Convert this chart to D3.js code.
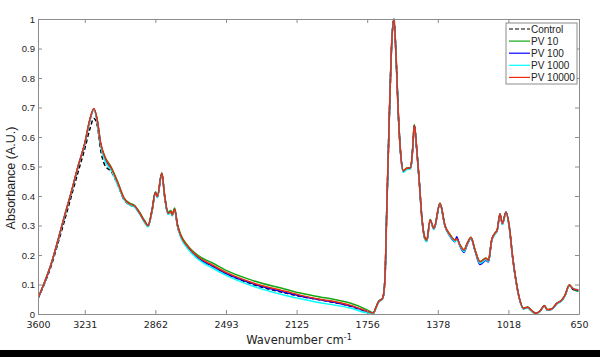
<!DOCTYPE html>
<html lang="en">
<head>
<meta charset="UTF-8">
<title>FTIR spectra</title>
<style>
  body, html { margin: 0; padding: 0; background: #fff; }
  svg { display: block; }
  .axis path, .axis line { stroke: #8c8c8c; }
  .xaxis text { font-family: "DejaVu Sans", sans-serif; font-size: 9.5px; fill: #222; }
  .yaxis text { font-family: "Liberation Sans", Arial, sans-serif; font-size: 9.5px; fill: #222; }
</style>
</head>
<body>
<div id="chart"></div>
<script src="https://d3js.org/d3.v7.min.js"></script>
<script>
// wavenumbers (cm-1) sampled along the spectra
const wavenumbers = [
  3600, 3563, 3527, 3491, 3454, 3418, 3382, 3345, 3318, 3295,
  3277, 3258, 3236, 3200, 3164, 3131, 3100, 3073, 3045, 3018,
  3000, 2978, 2960, 2949, 2925, 2909, 2891, 2876, 2868, 2855,
  2840, 2819, 2782, 2728, 2646, 2571, 2426, 2244, 2171, 2062,
  1991, 1899, 1808, 1772, 1758, 1744, 1720, 1708, 1699, 1684,
  1671, 1659, 1648, 1635, 1622, 1608, 1589, 1568, 1557, 1548,
  1535, 1521, 1508, 1490, 1480, 1462, 1441, 1408, 1381, 1353,
  1326, 1317, 1299, 1277, 1259, 1239, 1217, 1190, 1157, 1144,
  1126, 1108, 1096, 1081, 1068, 1048, 1030, 1012, 994, 975,
  953, 930, 908, 884, 862, 839, 822, 799, 771, 744,
  726, 703, 684, 654
];

const control = [
  .053, .105, .165, .240, .320, .400, .480, .560, .625, .663,
  .640, .555, .505, .482, .437, .387, .370, .363, .340, .312,
  .298, .350, .410, .397, .475, .397, .340, .346, .335, .353,
  .300, .260, .225, .190, .162, .136, .100, .070, .060, .048,
  .040, .027, .008, .002, .020, .040, .054, .120, .335, .675,
  .920, 1.00, .880, .675, .540, .484, .493, .495, .558, .638,
  .558, .449, .334, .256, .249, .318, .289, .374, .299, .266,
  .248, .253, .232, .214, .238, .258, .216, .175, .187, .180,
  .250, .273, .284, .337, .305, .343, .294, .193, .114, .052,
  .018, .022, .010, .002, .010, .027, .014, .017, .035, .046,
  .063, .096, .084, .079
];

const pv10 = [
  .053, .110, .172, .250, .335, .414, .500, .578, .656, .695,
  .657, .578, .535, .497, .446, .394, .376, .368, .344, .316,
  .302, .355, .414, .401, .479, .401, .345, .351, .340, .359,
  .306, .266, .231, .199, .172, .147, .113, .083, .071, .058,
  .050, .037, .015, .004, .022, .042, .055, .121, .336, .676,
  .920, 1.00, .880, .676, .541, .486, .495, .497, .562, .642,
  .561, .451, .336, .258, .251, .320, .291, .376, .301, .269,
  .251, .256, .235, .218, .241, .260, .218, .178, .190, .182,
  .252, .275, .286, .340, .308, .346, .297, .195, .116, .054,
  .020, .024, .012, .003, .011, .029, .015, .018, .037, .048,
  .065, .099, .086, .076
];

const pv100 = [
  .053, .109, .171, .250, .334, .413, .498, .577, .655, .694,
  .655, .575, .530, .490, .440, .390, .372, .365, .340, .312,
  .298, .351, .410, .397, .476, .397, .340, .346, .335, .354,
  .301, .260, .225, .191, .161, .136, .102, .072, .061, .048,
  .041, .028, .009, .002, .020, .040, .054, .120, .335, .675,
  .920, 1.00, .880, .675, .540, .483, .492, .494, .559, .639,
  .559, .449, .334, .254, .247, .317, .288, .374, .298, .263,
  .245, .262, .230, .209, .236, .257, .214, .168, .182, .176,
  .249, .272, .283, .338, .304, .346, .293, .192, .113, .052,
  .018, .022, .010, .002, .010, .027, .013, .016, .035, .046,
  .063, .097, .086, .080
];

const pv1000 = [
  .053, .109, .171, .249, .334, .413, .498, .576, .654, .692,
  .652, .570, .520, .486, .436, .388, .370, .362, .338, .309,
  .295, .348, .407, .394, .473, .394, .337, .343, .332, .351,
  .297, .256, .220, .186, .155, .130, .094, .062, .052, .038,
  .031, .020, .004, .001, .018, .038, .052, .118, .333, .673,
  .918, 1.00, .878, .673, .538, .480, .490, .492, .556, .636,
  .556, .446, .331, .252, .245, .315, .286, .372, .297, .264,
  .246, .252, .231, .212, .237, .257, .215, .172, .185, .178,
  .248, .270, .282, .336, .303, .342, .292, .191, .112, .051,
  .017, .021, .009, .001, .009, .026, .013, .016, .034, .045,
  .062, .096, .088, .082
];

const pv10000 = [
  .053, .110, .172, .251, .336, .415, .500, .579, .658, .697,
  .658, .578, .533, .494, .443, .392, .373, .366, .341, .313,
  .299, .352, .411, .398, .477, .398, .341, .347, .336, .355,
  .302, .262, .228, .194, .165, .140, .105, .076, .064, .050,
  .043, .030, .010, .003, .020, .040, .054, .120, .335, .675,
  .920, 1.00, .880, .675, .540, .485, .494, .496, .560, .640,
  .560, .450, .335, .257, .250, .319, .290, .375, .300, .268,
  .250, .255, .234, .217, .240, .259, .217, .177, .189, .181,
  .251, .274, .285, .339, .307, .345, .296, .194, .115, .053,
  .019, .023, .011, .002, .010, .028, .014, .017, .036, .047,
  .064, .098, .087, .081
];

const seriesNames = ["Control", "PV 10", "PV 100", "PV 1000", "PV 10000"];
const seriesValues = [control, pv10, pv100, pv1000, pv10000];
const seriesColors = ["#000000", "#14a814", "#0000ff", "#00ffff", "#f02a0c"];

// x ticks: positions on the axis and the labels printed under them
const xTickPositions = [3600, 3345, 2960, 2575, 2190, 1805, 1420, 1035, 650];
const xTickLabels = ["3600", "3231", "2862", "2493", "2125", "1756", "1378", "1018", "650"];
const yTicks = [0, 0.1, 0.2, 0.3, 0.4, 0.5, 0.6, 0.7, 0.8, 0.9, 1];

const width = 600, height = 357;
const plotLeft = 38, plotRight = 579, plotTop = 19, plotBottom = 314;

const svg = d3.select("#chart").append("svg")
  .attr("width", width)
  .attr("height", height);

const x = d3.scaleLinear().domain([3600, 650]).range([plotLeft, plotRight]);
const y = d3.scaleLinear().domain([0, 1]).range([plotBottom, plotTop]);

svg.append("defs").append("clipPath").attr("id", "plotclip")
  .append("rect")
  .attr("x", plotLeft).attr("y", plotTop - 1)
  .attr("width", plotRight - plotLeft).attr("height", plotBottom - plotTop + 1);

// lines
const line = d3.line()
  .x((d, i) => x(wavenumbers[i]))
  .y(d => y(d))
  .curve(d3.curveMonotoneX);

svg.append("g")
  .attr("clip-path", "url(#plotclip)")
  .selectAll("path")
  .data(seriesValues)
  .join("path")
  .attr("fill", "none")
  .attr("stroke", (d, i) => seriesColors[i])
  .attr("stroke-width", 1.5)
  .attr("stroke-dasharray", (d, i) => i === 0 ? "4,2.5" : null)
  .attr("d", line);

// axes (box with inward ticks)
svg.append("g")
  .attr("class", "axis xaxis")
  .attr("transform", `translate(0,${plotBottom})`)
  .call(d3.axisBottom(x).tickValues(xTickPositions)
    .tickFormat((d, i) => xTickLabels[i])
    .tickSizeInner(-4).tickSizeOuter(0).tickPadding(7));

svg.append("g")
  .attr("class", "axis")
  .attr("transform", `translate(0,${plotTop})`)
  .call(d3.axisTop(x).tickValues(xTickPositions).tickFormat("")
    .tickSizeInner(-4).tickSizeOuter(0));

svg.append("g")
  .attr("class", "axis yaxis")
  .attr("transform", `translate(${plotLeft},0)`)
  .call(d3.axisLeft(y).tickValues(yTicks)
    .tickFormat(d3.format("~g"))
    .tickSizeInner(-4).tickSizeOuter(0).tickPadding(3));

svg.append("g")
  .attr("class", "axis")
  .attr("transform", `translate(${plotRight},0)`)
  .call(d3.axisRight(y).tickValues(yTicks).tickFormat("")
    .tickSizeInner(-4).tickSizeOuter(0));

// axis titles
svg.append("text")
  .attr("transform", "translate(15,178) rotate(-90)")
  .attr("text-anchor", "middle")
  .attr("font-family", "Liberation Sans, Arial, sans-serif")
  .attr("font-size", 12.5)
  .attr("fill", "#222")
  .text("Absorbance (A.U.)");

const xTitle = svg.append("text")
  .attr("x", 299)
  .attr("y", 344)
  .attr("text-anchor", "middle")
  .attr("font-family", "DejaVu Sans, sans-serif")
  .attr("font-size", 11.5)
  .attr("fill", "#222");
xTitle.append("tspan").text("Wavenumber cm");
xTitle.append("tspan").attr("dy", -4).attr("font-size", 8).text("-1");

// legend
const legend = svg.append("g").attr("transform", "translate(506,23)");
legend.append("rect")
  .attr("width", 71).attr("height", 61)
  .attr("fill", "#fff").attr("stroke", "#8c8c8c");

const item = legend.selectAll("g.item")
  .data(seriesNames)
  .join("g")
  .attr("class", "item")
  .attr("transform", (d, i) => `translate(0,${6 + i * 12.1})`);

item.append("line")
  .attr("x1", 3).attr("x2", 24)
  .attr("stroke", (d, i) => seriesColors[i])
  .attr("stroke-width", 1.2)
  .attr("stroke-dasharray", (d, i) => i === 0 ? "4,2" : null);

item.append("text")
  .attr("x", 25).attr("y", 3.5)
  .attr("font-family", "Liberation Sans, Arial, sans-serif")
  .attr("font-size", 10)
  .attr("fill", "#222")
  .text(d => d);

// dark strip at the bottom of the image
svg.append("rect")
  .attr("x", 0).attr("y", 350)
  .attr("width", width).attr("height", height - 350)
  .attr("fill", "#000");
</script>
</body>
</html>
